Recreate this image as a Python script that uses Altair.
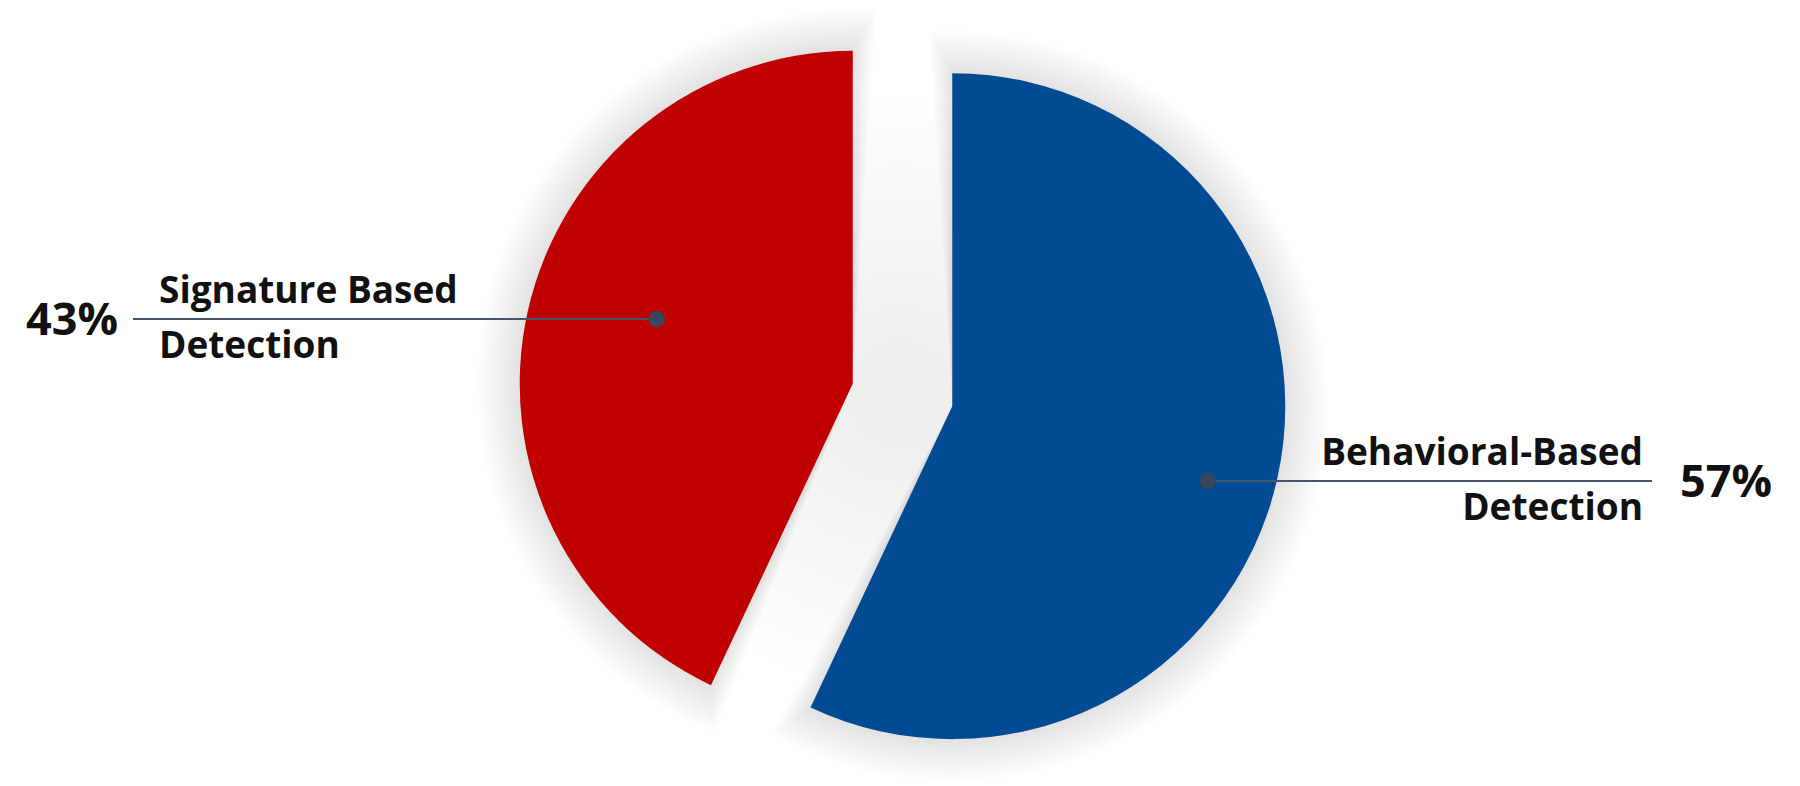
import math
import altair as alt
import pandas as pd

# ---- data ----
categories = ["Behavioral-Based Detection", "Signature Based Detection"]
values = [57, 43]
label_top = ["Behavioral-Based", "Signature Based"]
label_bottom = ["Detection", "Detection"]
colors = ["#014B93", "#C00000"]

# ---- layout (chart pixel coordinates; page = chart + 8) ----
W, H = 1784, 770
CX, CY = 894.5, 387.0
R = 333
EXPLODE = 51
dot_frac = [0.80, 0.62]
dot_shift = [3.7, 5.7]  # degrees
LINE_COLOR = "#44546A"
TEXT_COLOR = "#111111"
FONT = "Open Sans"

df = pd.DataFrame({
    "category": categories,
    "value": values,
    "top": label_top,
    "bottom": label_bottom,
    "idx": list(range(len(values))),
    "frac": dot_frac,
    "shift": dot_shift,
})

base = (
    alt.Chart(df)
    .transform_window(cum="sum(value)", sort=[alt.SortField("idx")], frame=[None, 0])
    .transform_joinaggregate(total="sum(value)")
    .transform_calculate(s0="(datum.cum - datum.value) / datum.total")
    .transform_calculate(s1="datum.cum / datum.total")
    .transform_calculate(mid="(datum.s0 + datum.s1) * PI")
    .transform_calculate(cx=f"{CX} + {EXPLODE} * sin(datum.mid)")
    .transform_calculate(cy=f"{CY} - {EXPLODE} * cos(datum.mid)")
    .transform_calculate(la="datum.mid + datum.shift * PI / 180")
    .transform_calculate(px=f"datum.cx + datum.frac * {R} * sin(datum.la)")
    .transform_calculate(py=f"datum.cy - datum.frac * {R} * cos(datum.la)")
    .transform_calculate(pct="format(datum.value / datum.total, '.0%')")
)

theta_scale = alt.Scale(domain=[0, 1], range=[0, 2 * math.pi])
xc = alt.X("cx:Q", scale=None, axis=None)
yc = alt.Y("cy:Q", scale=None, axis=None)

layers = []

# soft glow behind the whole pie (fills the gap between the slices)
n_disc = 16
for i in range(n_disc):
    f = 0.2 + 0.8 * i / (n_disc - 1)
    layers.append(
        base.transform_filter("datum.idx == 0")
        .mark_circle(size=math.pi * (f * R) ** 2, color="#000000", opacity=0.0055)
        .encode(x=alt.value(CX), y=alt.value(CY))
    )

# halo around each slice
for k in range(1, 15):
    s = 3 * k
    ext = 0.5 * s / R / (2 * math.pi)
    layers.append(
        base.transform_calculate(a0=f"datum.s0 - {ext}")
        .transform_calculate(a1=f"datum.s1 + {ext}")
        .mark_arc(outerRadius=R + s, color="#000000", opacity=0.0085)
        .encode(
            theta=alt.Theta("a0:Q", scale=theta_scale),
            theta2="a1:Q",
            x=xc,
            y=yc,
        )
    )

slices = base.mark_arc(outerRadius=R).encode(
    theta=alt.Theta("s0:Q", scale=theta_scale),
    theta2="s1:Q",
    x=xc,
    y=yc,
    color=alt.Color("category:N", scale=alt.Scale(domain=categories, range=colors), legend=None),
)
layers.append(slices)

px = alt.X("px:Q", scale=None, axis=None)
py = alt.Y("py:Q", scale=None, axis=None)

right = base.transform_filter("datum.idx == 0")
left = base.transform_filter("datum.idx == 1")

layers.append(right.mark_rule(color=LINE_COLOR, strokeWidth=2).encode(x=px, x2=alt.value(1644), y=py))
layers.append(left.mark_rule(color=LINE_COLOR, strokeWidth=2).encode(x=px, x2=alt.value(125), y=py))
layers.append(base.mark_circle(size=270, color="#3A475A", opacity=1).encode(x=px, y=py))

txt = dict(font=FONT, fontSize=37, fontWeight="bold", color=TEXT_COLOR, baseline="alphabetic")
pct = dict(font=FONT, fontSize=45, fontWeight="bold", color=TEXT_COLOR, baseline="alphabetic", dy=16)

layers.append(right.mark_text(align="right", dy=-16, **txt).encode(x=alt.value(1635), y=py, text="top:N"))
layers.append(right.mark_text(align="right", dy=39, **txt).encode(x=alt.value(1635), y=py, text="bottom:N"))
layers.append(right.mark_text(align="left", **pct).encode(x=alt.value(1672), y=py, text="pct:N"))

layers.append(left.mark_text(align="left", dy=-16, **txt).encode(x=alt.value(151), y=py, text="top:N"))
layers.append(left.mark_text(align="left", dy=39, **txt).encode(x=alt.value(151), y=py, text="bottom:N"))
layers.append(left.mark_text(align="right", **pct).encode(x=alt.value(110), y=py, text="pct:N"))

chart = (
    alt.layer(*layers)
    .properties(width=W, height=H, autosize="none", padding=0, background="#FFFFFF")
    .configure_view(stroke=None)
)

chart.save("out.html", embed_options={"renderer": "svg", "actions": False})
